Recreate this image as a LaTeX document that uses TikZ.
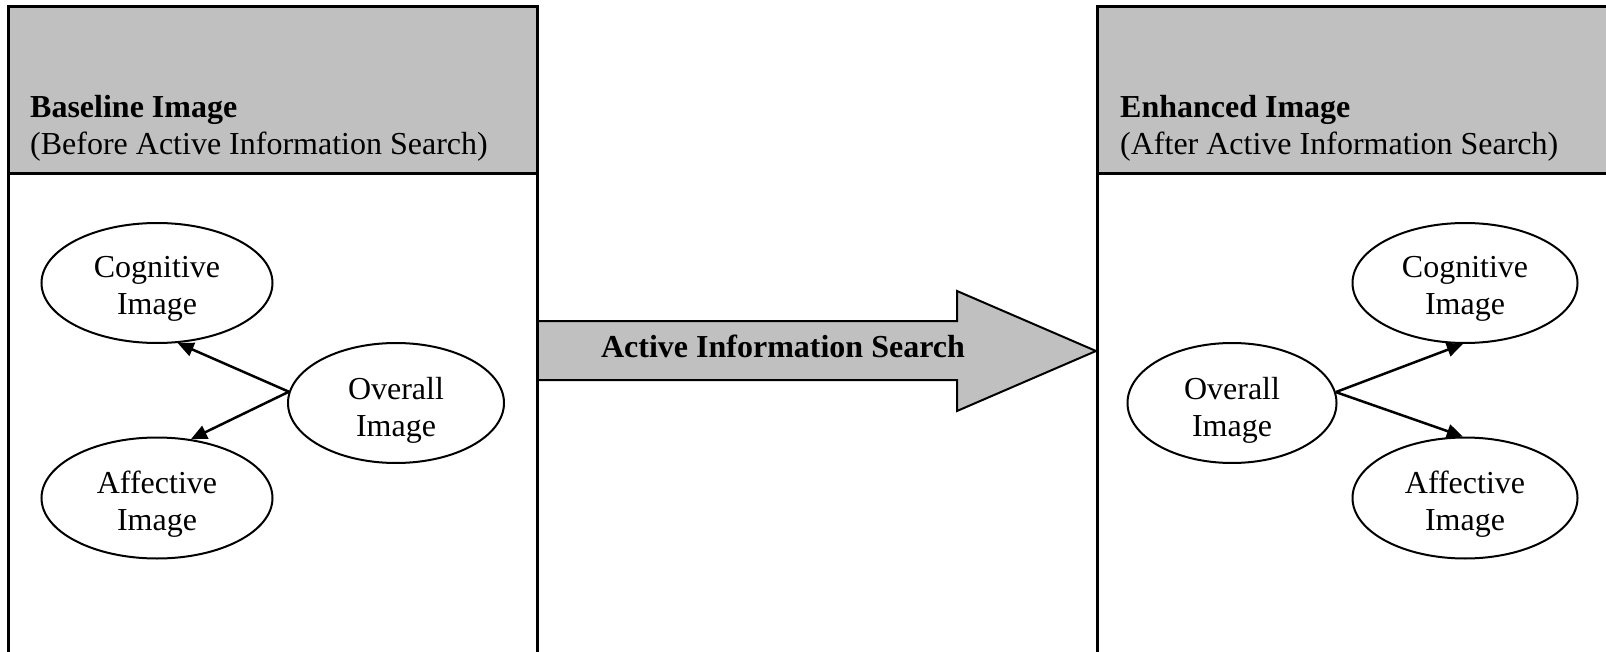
\documentclass[tikz,border=0pt]{standalone}
\usepackage{fontspec}
\setmainfont{Liberation Serif}
\usetikzlibrary{arrows.meta,shapes.geometric}
\definecolor{silverfill}{HTML}{C0C0C0}
\tikzset{
  boxline/.style={draw=black,line width=3pt},
  oval/.style={ellipse,draw=black,line width=2pt,inner sep=0pt},
  ovaltext/.style={align=center,inner sep=0pt,font=\fontsize{32}{37}\selectfont},
  linkarrow/.style={line width=2.5pt,-{Triangle[length=16pt,width=14pt]}},
  headtxt/.style={anchor=base west,inner sep=0pt,font=\fontsize{32}{37}\selectfont},
  bigarrow/.style={fill=silverfill,draw=black,line width=2pt,line join=miter},
}
\begin{document}
\begin{tikzpicture}[x=1pt,y=-1pt]
\useasboundingbox (0,0) rectangle (1606,652);
\fill[white] (0,0) rectangle (1606,652);
\begin{scope}
\clip (0,0) rectangle (1606,652);
% big arrow
\draw[bigarrow] (537,321) -- (957,321) -- (957,291) -- (1096,351) -- (957,411) -- (957,380) -- (537,380) -- cycle;
\node[anchor=base,inner sep=0pt,font=\fontsize{32}{37}\selectfont\bfseries] (ais) at (783,357) {Active Information Search};
% left panel
\fill[silverfill] (8,7) rectangle (537,174);
\draw[boxline] (8,700) -- (8,7) -- (537,7) -- (537,700);
\draw[boxline] (8,174) -- (537,174);
% right panel
\fill[silverfill] (1097,7) rectangle (1620,174);
\draw[boxline] (1097,700) -- (1097,7) -- (1620,7);
\draw[boxline] (1097,174) -- (1620,174);
\end{scope}
% header texts
\node[headtxt,font=\fontsize{32}{37}\selectfont\bfseries] (bt1) at (30,118) {Baseline Image};
\node[headtxt] (bt2) at (30,155) {(Before Active Information Search)};
\node[headtxt,font=\fontsize{32}{37}\selectfont\bfseries] (et1) at (1120,118) {Enhanced Image};
\node[headtxt] (et2) at (1120,155) {(After Active Information Search)};
% left ellipses
\node[oval,minimum width=231pt,minimum height=120pt] (cogL) at (157,283) {};
\node[oval,minimum width=231pt,minimum height=121pt] (affL) at (157,498) {};
\node[oval,minimum width=216pt,minimum height=120pt] (ovL) at (396,403) {};
\node[ovaltext] (cogLt) at ([yshift=-6pt]cogL.center) {Cognitive\\Image};
\node[ovaltext] (affLt) at ([yshift=-6pt]affL.center) {Affective\\Image};
\node[ovaltext] (ovLt) at ([yshift=-7pt]ovL.center) {Overall\\Image};
% right ellipses
\node[oval,minimum width=209pt,minimum height=120pt] (ovR) at (1232,403) {};
\node[oval,minimum width=225pt,minimum height=120pt] (cogR) at (1465,283) {};
\node[oval,minimum width=225pt,minimum height=121pt] (affR) at (1465,498) {};
\node[ovaltext] (ovRt) at ([yshift=-7pt]ovR.center) {Overall\\Image};
\node[ovaltext] (cogRt) at ([yshift=-6pt]cogR.center) {Cognitive\\Image};
\node[ovaltext] (affRt) at ([yshift=-6pt]affR.center) {Affective\\Image};
% connectors
\draw[linkarrow] (ovL.174) -- (cogL.-71);
\draw[linkarrow] (ovL.174) -- (affL.60);
\draw[linkarrow] (ovR.6.5) -- (cogR.-92);
\draw[linkarrow] (ovR.6.5) -- (affR.92);
\end{tikzpicture}
\end{document}
